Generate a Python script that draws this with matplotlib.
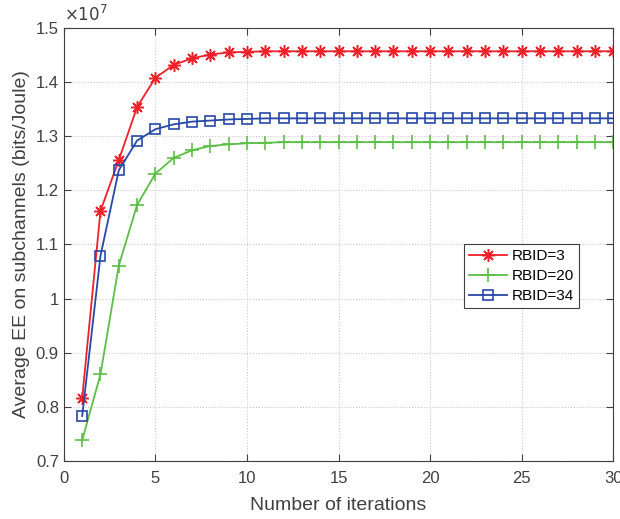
import matplotlib
matplotlib.use("Agg")
import matplotlib.pyplot as plt
import numpy as np

plt.rcParams['font.family'] = ['Liberation Sans', 'DejaVu Sans']

iterations = np.arange(1, 31)

# values in units of 1e7 bits/Joule
ee_rbid3 = [0.816, 1.162, 1.256, 1.354, 1.408, 1.432, 1.444, 1.451, 1.455, 1.456,
            1.457, 1.457, 1.457, 1.457, 1.457, 1.457, 1.457, 1.457, 1.457, 1.457,
            1.457, 1.457, 1.457, 1.457, 1.457, 1.457, 1.457, 1.457, 1.457, 1.457]
ee_rbid20 = [0.738, 0.860, 1.061, 1.173, 1.231, 1.260, 1.274, 1.282, 1.285, 1.287,
             1.288, 1.289, 1.289, 1.289, 1.289, 1.289, 1.289, 1.289, 1.289, 1.289,
             1.289, 1.289, 1.289, 1.289, 1.289, 1.289, 1.289, 1.289, 1.289, 1.289]
ee_rbid34 = [0.783, 1.079, 1.237, 1.292, 1.313, 1.322, 1.327, 1.329, 1.331, 1.332,
             1.333, 1.333, 1.333, 1.333, 1.333, 1.333, 1.333, 1.333, 1.333, 1.333,
             1.333, 1.333, 1.333, 1.333, 1.333, 1.333, 1.333, 1.333, 1.333, 1.333]

fig = plt.figure(figsize=(6.2, 5.19), dpi=100)
ax = fig.add_axes([0.103, 0.112, 0.886, 0.834])

ax.plot(iterations, np.array(ee_rbid3) * 1e7, color='#f0202a', marker=(8, 2, 0),
        markersize=9, markeredgewidth=1.1, linewidth=1.3, label='RBID=3')
ax.plot(iterations, np.array(ee_rbid20) * 1e7, color='#5cbf45', marker='+',
        markersize=10, markeredgewidth=1.2, linewidth=1.3, label='RBID=20')
ax.plot(iterations, np.array(ee_rbid34) * 1e7, color='#2848a8', marker='s',
        markersize=7, markerfacecolor='none', markeredgewidth=1.2,
        linewidth=1.3, label='RBID=34')

ax.set_xlim(0, 30)
ax.set_ylim(0.7e7, 1.5e7)
ax.set_xticks(np.arange(0, 31, 5))
ax.set_yticks(np.arange(0.7e7, 1.51e7, 0.1e7))
ax.set_yticklabels(['0.7', '0.8', '0.9', '1', '1.1', '1.2', '1.3', '1.4', '1.5'])
ax.text(0.0, 1.008, r'$\times10^{7}$', transform=ax.transAxes, fontsize=12,
        color='#404040', va='bottom', ha='left', family='DejaVu Sans')

ax.grid(True, linestyle=':', color='#c8c8c8', linewidth=0.8)
ax.tick_params(direction='in', labelsize=12, colors='#404040', length=5,
               top=True, right=True)
ax.tick_params(axis='x', pad=7)
for sp in ax.spines.values():
    sp.set_color('#404040')
    sp.set_linewidth(0.8)

ax.set_xlabel('Number of iterations', fontsize=14, color='#404040', labelpad=8)
ax.set_ylabel('Average EE on subchannels (bits/Joule)', fontsize=14, color='#404040')

leg = ax.legend(loc='upper left', bbox_to_anchor=(0.728, 0.502), fontsize=11,
                fancybox=False, framealpha=1, edgecolor='#404040',
                borderpad=0.35, labelspacing=0.4, handlelength=2.5,
                handletextpad=0.3, borderaxespad=0)
leg.get_frame().set_linewidth(0.8)

fig.savefig('out.png', dpi=100)
